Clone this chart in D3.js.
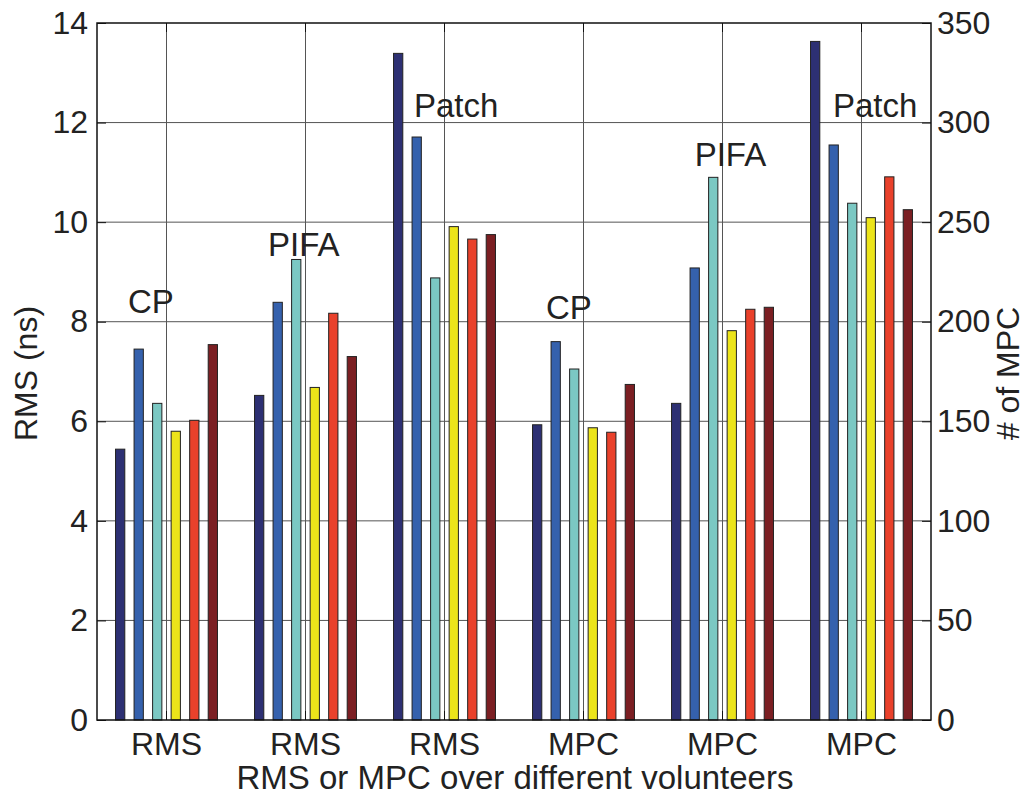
<!DOCTYPE html>
<html>
<head>
<meta charset="utf-8">
<script src="https://cdn.jsdelivr.net/npm/d3@7"></script>
<style>
  html, body { margin: 0; padding: 0; background: #fff; }
  svg { display: block; }
  text { font-family: "Liberation Sans", Arial, Helvetica, sans-serif; fill: #222; }
</style>
</head>
<body>
<svg id="chart" width="1029" height="796"></svg>
<script>
// ---- data ----
const groupLabels = ["RMS", "RMS", "RMS", "MPC", "MPC", "MPC"];
const seriesColors = ["#2d3073", "#3561ad", "#7bc8c3", "#ece41a", "#e9412b", "#7b1f23"];
// values in left-axis units (RMS ns; MPC scaled by 1/25)
const series1 = [5.44, 6.52, 13.39, 5.93, 6.36, 13.63];
const series2 = [7.45, 8.39, 11.71, 7.60, 9.08, 11.55];
const series3 = [6.36, 9.25, 8.88, 7.05, 10.90, 10.38];
const series4 = [5.80, 6.68, 9.91, 5.87, 7.82, 10.09];
const series5 = [6.02, 8.17, 9.66, 5.78, 8.25, 10.91];
const series6 = [7.54, 7.30, 9.75, 6.74, 8.29, 10.25];
const leftTicks = [0, 2, 4, 6, 8, 10, 12, 14];
const rightTicks = [0, 50, 100, 150, 200, 250, 300, 350];
const annoText = ["CP", "PIFA", "Patch", "CP", "PIFA", "Patch"];
const annoX = [0.723, 1.73, 2.78, 3.73, 4.80, 5.795];   // x in group units (1..6)
const annoY = [8.17, 9.32, 12.11, 8.05, 11.12, 12.11];  // y in left-axis units

const allSeries = [series1, series2, series3, series4, series5, series6];

// ---- layout ----
const svg = d3.select("#chart");
const L = 97, R = 931, T = 23, B = 720;
const fontSize = 32;

const x0 = d3.scaleBand().domain(d3.range(groupLabels.length)).range([L, R])
  .paddingInner(0.2).paddingOuter(0.1);
const x1 = d3.scaleBand().domain(d3.range(allSeries.length)).range([0, x0.bandwidth()])
  .paddingInner(0.5).paddingOuter(0.25);
const xLin = d3.scaleLinear().domain([0.5, groupLabels.length + 0.5]).range([L, R]);
const y = d3.scaleLinear().domain([0, 14]).range([B, T]);
const yR = d3.scaleLinear().domain([0, 350]).range([B, T]);

// grid
const grid = svg.append("g").attr("stroke", "#555").attr("stroke-width", 1);
grid.selectAll("line.h").data(leftTicks.slice(1, -1)).join("line")
  .attr("x1", L).attr("x2", R).attr("y1", d => y(d)).attr("y2", d => y(d));
grid.selectAll("line.v").data(d3.range(groupLabels.length)).join("line")
  .attr("x1", d => x0(d) + x0.bandwidth() / 2).attr("x2", d => x0(d) + x0.bandwidth() / 2)
  .attr("y1", T).attr("y2", B);

// bars
const groups = svg.append("g").selectAll("g").data(d3.range(groupLabels.length)).join("g")
  .attr("transform", d => `translate(${x0(d)},0)`);
groups.selectAll("rect").data(gi => allSeries.map((s, si) => ({ si, v: s[gi] }))).join("rect")
  .attr("x", d => x1(d.si)).attr("width", x1.bandwidth())
  .attr("y", d => y(d.v)).attr("height", d => y(0) - y(d.v))
  .attr("fill", d => seriesColors[d.si])
  .attr("stroke", "#222").attr("stroke-width", 1);

// annotations
svg.append("g").selectAll("text").data(annoText).join("text")
  .attr("x", (d, i) => xLin(annoX[i])).attr("y", (d, i) => y(annoY[i]))
  .attr("font-size", 33).text(d => d);

// axes
const leftAxis = d3.axisLeft(y).tickValues(leftTicks).tickSize(-9).tickPadding(9);
const gL = svg.append("g").attr("transform", `translate(${L},0)`).call(leftAxis);
const rightAxis = d3.axisRight(yR).tickValues(rightTicks).tickSize(-9).tickPadding(6);
const gR = svg.append("g").attr("transform", `translate(${R},0)`).call(rightAxis);
const bottomAxis = d3.axisBottom(x0).tickFormat(i => groupLabels[i]).tickSize(-9).tickPadding(12);
const gB = svg.append("g").attr("transform", `translate(0,${B})`).call(bottomAxis);
const topAxis = d3.axisTop(x0).tickFormat("").tickSize(-9);
const gT = svg.append("g").attr("transform", `translate(0,${T})`).call(topAxis);
[gL, gR, gB, gT].forEach(g => {
  g.select(".domain").remove();
  g.selectAll(".tick line").attr("stroke", "#111").attr("stroke-width", 1);
  g.selectAll(".tick text").attr("font-size", fontSize).attr("fill", "#222")
    .attr("font-family", "Liberation Sans, Arial, sans-serif");
});

// frame
svg.append("rect").attr("x", L).attr("y", T).attr("width", R - L).attr("height", B - T)
  .attr("fill", "none").attr("stroke", "#111").attr("stroke-width", 1.5);

// axis titles
svg.append("text").attr("x", (L + R) / 2 + 1).attr("y", 789).attr("text-anchor", "middle")
  .attr("font-size", 33).text("RMS or MPC over different volunteers");
svg.append("text").attr("transform", `translate(37,${(T + B) / 2 + 2}) rotate(-90)`)
  .attr("text-anchor", "middle").attr("font-size", fontSize).text("RMS (ns)");
svg.append("text").attr("transform", `translate(1019,${(T + B) / 2 + 2}) rotate(-90)`)
  .attr("text-anchor", "middle").attr("font-size", fontSize).text("# of MPC");
</script>
</body>
</html>
